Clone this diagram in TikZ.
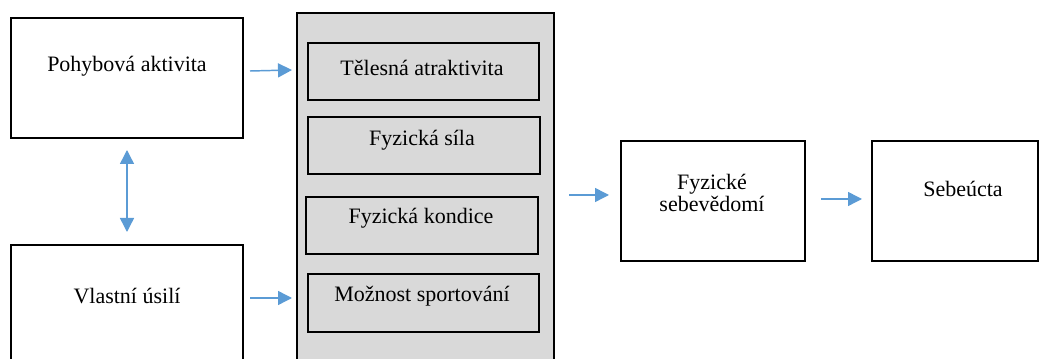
\documentclass[tikz,border=0pt]{standalone}
\usepackage{fontspec}
\setmainfont{Liberation Serif}
\usetikzlibrary{arrows.meta}
\definecolor{arrblue}{HTML}{5B9BD5}
\definecolor{boxgray}{HTML}{D9D9D9}
\tikzset{
  box/.style={draw=black, line width=1.5pt, fill=white, anchor=north west, inner sep=0pt},
  innerbox/.style={box, fill=boxgray},
  txt/.style={font=\fontsize{16.5}{17}\selectfont, inner sep=0pt, align=center},
  arr/.style={draw=arrblue, line width=1.1pt, -{Triangle[length=10.5pt,width=10.5pt]}},
  darr/.style={draw=arrblue, line width=1.1pt, {Triangle[length=10.5pt,width=10.5pt]}-{Triangle[length=10.5pt,width=10.5pt]}}
}
\begin{document}
\begin{tikzpicture}[x=0.75pt,y=-0.75pt]
\useasboundingbox (0,0) rectangle (1046,359);
\clip (0,0) rectangle (1046,359);
% left boxes
\node[box, minimum width=232*0.75pt, minimum height=120*0.75pt] (pa) at (10,17) {};
\node[txt] (pat) at (127,66) {Pohybová aktivita};
\node[box, minimum width=232*0.75pt, minimum height=140*0.75pt] (vu) at (10,244) {};
\node[txt] (vut) at (127,296) {Vlastní úsilí};
% big gray box
\node[innerbox, minimum width=257*0.75pt, minimum height=370*0.75pt] (big) at (296,12) {};
\node[innerbox, minimum width=231*0.75pt, minimum height=57*0.75pt] (t1) at (307,42) {};
\node[txt] (t1t) at (422,68) {Tělesná atraktivita};
\node[innerbox, minimum width=232*0.75pt, minimum height=57*0.75pt] (t2) at (307,116) {};
\node[txt] (t2t) at (422,140) {Fyzická síla};
\node[innerbox, minimum width=232*0.75pt, minimum height=57*0.75pt] (t3) at (305,196) {};
\node[txt] (t3t) at (421,218) {Fyzická kondice};
\node[innerbox, minimum width=231*0.75pt, minimum height=58*0.75pt] (t4) at (307,273) {};
\node[txt] (t4t) at (422,296) {Možnost sportování};
% right boxes
\node[box, minimum width=184*0.75pt, minimum height=120*0.75pt] (fs) at (620,140) {};
\node[txt] (fst) at (712,193) {Fyzické\\sebevědomí};
\node[box, minimum width=166*0.75pt, minimum height=120*0.75pt] (se) at (871,140) {};
\node[txt] (set) at (963,189) {Sebeúcta};
% arrows
\draw[arr] ([shift={(6,-7)}]pa.east) -- ([shift={(-4,58)}]big.north west);
\draw[arr] ([shift={(6,54)}]vu.north east) -- ([shift={(-4,286)}]big.north west);
\draw[arr] ([shift={(14,-6)}]big.east |- fs.west) -- ([shift={(-11,-6)}]fs.west);
\draw[arr] ([shift={(15,-2)}]fs.east) -- ([shift={(-9,-2)}]se.west);
\draw[darr] ([shift={(0,11)}]pa.south) -- ([shift={(0,-12)}]vu.north);
\end{tikzpicture}
\end{document}
